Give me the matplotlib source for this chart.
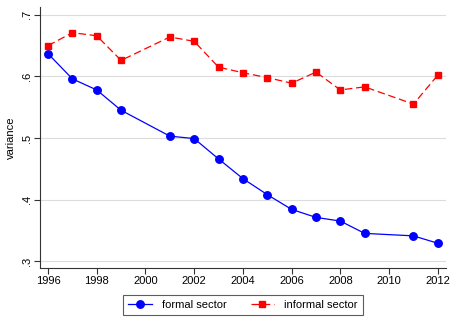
import matplotlib
matplotlib.use("Agg")
import matplotlib.pyplot as plt

plt.rcParams['font.family'] = ['Liberation Sans', 'DejaVu Sans']

# years with observations (no 2000 and 2010)
years = [1996, 1997, 1998, 1999, 2001, 2002, 2003, 2004, 2005, 2006, 2007, 2008, 2009, 2011, 2012]
formal = [0.637, 0.596, 0.578, 0.545, 0.503, 0.499, 0.466, 0.434, 0.408, 0.384,
          0.371, 0.365, 0.345, 0.341, 0.329]
informal = [0.650, 0.671, 0.666, 0.626, 0.664, 0.657, 0.615, 0.606, 0.598, 0.589,
            0.607, 0.578, 0.583, 0.555, 0.602]

x_ticks = list(range(1996, 2013, 2))
y_ticks = [0.3, 0.4, 0.5, 0.6, 0.7]
y_labels = ['.3', '.4', '.5', '.6', '.7']

fig = plt.figure(figsize=(4.54, 3.25), dpi=100)
ax = fig.add_axes([0.088, 0.175, 0.894, 0.804])

ax.plot(years, formal, color='#0000ff', lw=0.9, marker='o', ms=5.4,
        label='formal sector')
ax.plot(years, informal, color='#ff0000', lw=0.9, ls=(0, (6, 3)), marker='s', ms=5,
        label='informal sector')

ax.set_xlim(1995.67, 2012.33)
ax.set_ylim(0.2886, 0.713)
ax.set_xticks(x_ticks)
ax.set_yticks(y_ticks)
ax.set_yticklabels(y_labels, rotation=90, va='center')
ax.tick_params(labelsize=8, length=4, width=0.8, color='#333333', pad=2)
ax.set_ylabel('variance', fontsize=8, labelpad=4)
ax.grid(axis='y', color='#dcdcdc', lw=0.8)
ax.set_axisbelow(True)
for s in ['top', 'right']:
    ax.spines[s].set_visible(False)
for s in ['left', 'bottom']:
    ax.spines[s].set_color('#333333')
    ax.spines[s].set_linewidth(0.8)

leg = fig.legend(loc='center', bbox_to_anchor=(0.535, 0.0625), ncol=2, fontsize=8,
                 frameon=True, fancybox=False, edgecolor='#333333',
                 handlelength=2.1, handletextpad=0.9, columnspacing=2.2, borderpad=0.45)
leg.get_frame().set_linewidth(0.8)

fig.savefig('out.png', dpi=100)
